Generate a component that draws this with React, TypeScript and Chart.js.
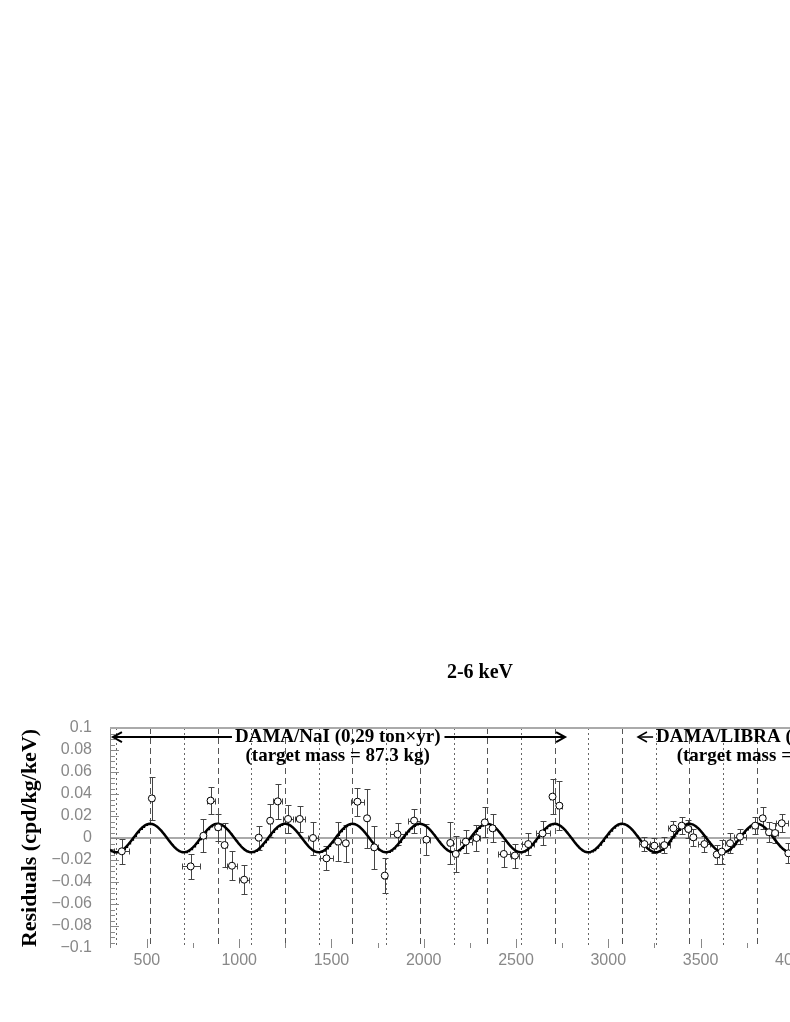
import React, { useEffect, useRef } from "react";
import { Chart, registerables } from "chart.js";

Chart.register(...registerables);

// ---- data ----
const days = [
  364, 527, 737, 806, 845, 886, 921, 961, 1027, 1106, 1168, 1209, 1265, 1328, 1400, 1473, 1536, 1578,
  1641, 1693, 1732, 1789, 1858, 1948, 2015, 2144, 2174, 2228, 2286, 2331, 2373, 2434, 2494, 2566, 2644,
  2698, 2735,
  3196, 3250, 3304, 3353, 3398, 3434, 3461, 3521, 3588, 3615, 3660, 3714, 3796, 3837, 3871, 3904, 3940, 3976,
];
const residuals = [
  -0.0121, 0.036, -0.0258, 0.002, 0.034, 0.0097, -0.0064, -0.0252, -0.0379, 0.0003, 0.0157, 0.0333, 0.0173,
  0.0173, 0.0, -0.0185, -0.0033, -0.0048, 0.033, 0.0179, -0.0085, -0.0342, 0.0034, 0.0158, -0.0015, -0.0045,
  -0.0145, -0.0033, 0.0, 0.0142, 0.0088, -0.0145, -0.016, -0.0055, 0.0042, 0.0376, 0.0294,
  -0.0055, -0.007, -0.0065, 0.0088, 0.0112, 0.0082, 0.0006, -0.0055, -0.015, -0.0124, -0.0048, 0.0012, 0.0112,
  0.0179, 0.0052, 0.0045, 0.0134, -0.0139,
];
const residualErrors = [
  0.0113, 0.0197, 0.0114, 0.015, 0.0124, 0.0124, 0.0197, 0.013, 0.013, 0.011, 0.015, 0.016, 0.013, 0.0117,
  0.015, 0.011, 0.018, 0.017, 0.0126, 0.027, 0.0197, 0.016, 0.01, 0.011, 0.014, 0.019, 0.016, 0.0103, 0.0117,
  0.0136, 0.0126, 0.012, 0.011, 0.01, 0.011, 0.016, 0.022,
  0.006, 0.007, 0.007, 0.007, 0.008, 0.008, 0.008, 0.007, 0.009, 0.011, 0.009, 0.007, 0.008, 0.01, 0.009,
  0.009, 0.008, 0.009,
];
const dayErrors = [
  40, 12, 48, 12, 22, 15, 12, 27, 27, 12, 12, 25, 27, 27, 27, 33, 12, 12, 33, 12, 20, 12, 38, 33, 20, 12, 12,
  33, 20, 12, 12, 33, 20, 33, 38, 12, 12,
  30, 30, 30, 27, 15, 15, 15, 33, 12, 12, 27, 33, 15, 15, 15, 15, 33, 12,
];

// fitted modulation
const fitAmplitude = 0.0129;
const fitPeriod = 365.25;
const fitPhaseDay = 152.5;

// annual maxima (dashed) and minima (dotted) markers
const maximaDays = [518, 883, 1248, 1614, 1979, 2344, 2709, 3075, 3440, 3805, 4170];
const minimaDays = [335, 701, 1066, 1431, 1796, 2162, 2527, 2892, 3257, 3623, 3988];

const xTickLabels = [500, 1000, 1500, 2000, 2500, 3000, 3500, 4000];
const yTickLabels = [0.1, 0.08, 0.06, 0.04, 0.02, 0, -0.02, -0.04, -0.06, -0.08, -0.1];

const titleText = "2-6 keV";
const yAxisTitle = "Residuals (cpd/kg/keV)";
const naiLabel = ["DAMA/NaI (0,29 ton×yr)", "(target mass = 87.3 kg)"];
const naiSpan = [316, 2766];
const naiCenter = 1534;
const libraLabel = ["DAMA/LIBRA (0.53 ton×yr)", "(target mass = 232.8 kg)"];
const libraArrow = [3161, 3243];
const labelRows = [0.0918, 0.0745];

const X_MIN = 300;
const X_MAX = 4310;

function fmtY(v: number): string {
  if (v === 0) return "0";
  return v < 0 ? "\u2212" + String(Math.abs(v)) : String(v);
}

const decorPlugin = {
  id: "decor",
  beforeDatasetsDraw(chart: any) {
    const { ctx, chartArea: a, scales } = chart;
    const x = scales.x;
    const y = scales.y;
    ctx.save();
    ctx.beginPath();
    ctx.rect(a.left, a.top - 2, a.right - a.left, a.bottom - a.top + 2);
    ctx.clip();

    // vertical modulation markers
    ctx.lineWidth = 1;
    ctx.strokeStyle = "#555";
    ctx.setLineDash([6, 4]);
    maximaDays.forEach((d) => {
      const px = Math.round(x.getPixelForValue(d)) + 0.5;
      ctx.beginPath();
      ctx.moveTo(px, a.top);
      ctx.lineTo(px, a.bottom);
      ctx.stroke();
    });
    ctx.strokeStyle = "#666";
    ctx.setLineDash([2, 3]);
    minimaDays.forEach((d) => {
      const px = Math.round(x.getPixelForValue(d)) + 0.5;
      ctx.beginPath();
      ctx.moveTo(px, a.top);
      ctx.lineTo(px, a.bottom);
      ctx.stroke();
    });
    ctx.setLineDash([]);

    // zero line
    ctx.strokeStyle = "#aaa";
    ctx.lineWidth = 2;
    const y0 = y.getPixelForValue(0);
    ctx.beginPath();
    ctx.moveTo(a.left, y0);
    ctx.lineTo(a.right, y0);
    ctx.stroke();

    // inner tick marks
    ctx.strokeStyle = "#888";
    ctx.lineWidth = 1;
    for (let v = -0.1; v <= 0.1001; v += 0.005) {
      const py = Math.round(y.getPixelForValue(v)) + 0.5;
      const major = Math.abs(Math.round(v * 1000) % 20) === 0;
      ctx.beginPath();
      ctx.moveTo(a.left, py);
      ctx.lineTo(a.left + (major ? 9 : 5), py);
      ctx.stroke();
    }
    for (let v = 500; v <= X_MAX; v += 250) {
      const px = Math.round(x.getPixelForValue(v)) + 0.5;
      const major = v % 500 === 0;
      ctx.beginPath();
      ctx.moveTo(px, a.bottom);
      ctx.lineTo(px, a.bottom - (major ? 9 : 5));
      ctx.stroke();
    }

    // axes & frame
    ctx.strokeStyle = "#888";
    ctx.lineWidth = 1;
    ctx.beginPath();
    ctx.moveTo(a.left + 0.5, a.top);
    ctx.lineTo(a.left + 0.5, a.bottom);
    ctx.moveTo(a.left, a.bottom + 0.5);
    ctx.lineTo(a.right, a.bottom + 0.5);
    ctx.stroke();
    ctx.strokeStyle = "#aaa";
    ctx.lineWidth = 2;
    ctx.beginPath();
    ctx.moveTo(a.left, a.top);
    ctx.lineTo(a.right, a.top);
    ctx.stroke();

    // error bars
    ctx.strokeStyle = "#444";
    ctx.lineWidth = 1;
    days.forEach((d, i) => {
      const px = Math.round(x.getPixelForValue(d)) + 0.5;
      const py = Math.round(y.getPixelForValue(residuals[i])) + 0.5;
      const yt = Math.round(y.getPixelForValue(residuals[i] + residualErrors[i])) + 0.5;
      const yb = Math.round(y.getPixelForValue(residuals[i] - residualErrors[i])) + 0.5;
      const xl = Math.round(x.getPixelForValue(d - dayErrors[i])) + 0.5;
      const xr = Math.round(x.getPixelForValue(d + dayErrors[i])) + 0.5;
      ctx.beginPath();
      ctx.moveTo(px, yt);
      ctx.lineTo(px, yb);
      ctx.moveTo(px - 3, yt);
      ctx.lineTo(px + 3, yt);
      ctx.moveTo(px - 3, yb);
      ctx.lineTo(px + 3, yb);
      ctx.moveTo(xl, py);
      ctx.lineTo(xr, py);
      ctx.moveTo(xl, py - 3);
      ctx.lineTo(xl, py + 3);
      ctx.moveTo(xr, py - 3);
      ctx.lineTo(xr, py + 3);
      ctx.stroke();
    });
    ctx.restore();
  },
  afterDatasetsDraw(chart: any) {
    const { ctx, chartArea: a, scales } = chart;
    const x = scales.x;
    const y = scales.y;
    ctx.save();

    // title
    ctx.fillStyle = "#000";
    ctx.font = 'bold 20px "Liberation Serif"';
    ctx.textAlign = "center";
    ctx.textBaseline = "middle";
    ctx.fillText(titleText, (a.left + a.right) / 2, a.top - 55);

    ctx.font = 'bold 19px "Liberation Serif"';
    const r1 = y.getPixelForValue(labelRows[0]);
    const r2 = y.getPixelForValue(labelRows[1]);

    const arrowHead = (px: number, py: number, dir: number) => {
      ctx.beginPath();
      ctx.moveTo(px + dir * 9, py - 5);
      ctx.lineTo(px, py);
      ctx.lineTo(px + dir * 9, py + 5);
      ctx.stroke();
    };

    // DAMA/NaI
    ctx.strokeStyle = "#000";
    ctx.lineWidth = 2;
    const cx = x.getPixelForValue(naiCenter);
    const w1 = ctx.measureText(naiLabel[0]).width;
    const xa = x.getPixelForValue(naiSpan[0]);
    const xb = x.getPixelForValue(naiSpan[1]);
    ctx.beginPath();
    ctx.moveTo(xa, r1);
    ctx.lineTo(cx - w1 / 2 - 3, r1);
    ctx.moveTo(cx + w1 / 2 + 4, r1);
    ctx.lineTo(xb, r1);
    ctx.stroke();
    arrowHead(xa, r1, 1);
    arrowHead(xb, r1, -1);
    ctx.fillText(naiLabel[0], cx, r1);
    ctx.fillText(naiLabel[1], cx, r2);

    // DAMA/LIBRA
    const la = x.getPixelForValue(libraArrow[0]);
    const lb = x.getPixelForValue(libraArrow[1]);
    ctx.lineWidth = 1.5;
    ctx.beginPath();
    ctx.moveTo(la, r1);
    ctx.lineTo(lb, r1);
    ctx.stroke();
    arrowHead(la, r1, 1);
    const lw = ctx.measureText(libraLabel[0]).width;
    const lc = lb + 3 + lw / 2;
    ctx.fillText(libraLabel[0], lc, r1);
    ctx.fillText(libraLabel[1], lc, r2);

    ctx.restore();
  },
};

export default function App() {
  const canvasRef = useRef<HTMLCanvasElement | null>(null);

  useEffect(() => {
    const canvas = canvasRef.current;
    if (!canvas) return;
    const points = days.map((d, i) => ({ x: d, y: residuals[i] }));
    const curve: { x: number; y: number }[] = [];
    for (let t = X_MIN; t <= X_MAX; t += 4) {
      curve.push({ x: t, y: fitAmplitude * Math.cos((2 * Math.PI * (t - fitPhaseDay)) / fitPeriod) });
    }
    const chart = new Chart(canvas, {
      type: "scatter",
      data: {
        datasets: [
          {
            label: "residuals",
            data: points,
            order: 0,
            pointStyle: "circle",
            pointRadius: 3.5,
            pointBackgroundColor: "#fff",
            pointBorderColor: "#000",
            pointBorderWidth: 1,
            showLine: false,
          },
          {
            label: "fit",
            data: curve,
            order: 1,
            showLine: true,
            borderColor: "#000",
            borderWidth: 2.5,
            pointRadius: 0,
            tension: 0,
          } as any,
        ],
      },
      options: {
        responsive: false,
        animation: false,
        devicePixelRatio: 1,
        events: [],
        layout: { padding: { top: 728, right: 110, left: 0, bottom: 0 } },
        plugins: { legend: { display: false }, tooltip: { enabled: false }, title: { display: false } },
        scales: {
          x: {
            type: "linear",
            min: X_MIN,
            max: X_MAX,
            grid: { display: false, drawTicks: false },
            border: { display: false },
            afterBuildTicks: (s: any) => {
              s.ticks = xTickLabels.map((v) => ({ value: v }));
            },
            afterFit: (s: any) => {
              s.height = 74;
            },
            ticks: {
              autoSkip: false,
              maxRotation: 0,
              padding: 3,
              color: "#888",
              font: { family: '"Liberation Sans"', size: 16 },
              callback: (v: any) => String(v),
            },
          },
          y: {
            type: "linear",
            min: -0.1,
            max: 0.1,
            grid: { display: false, drawTicks: false },
            border: { display: false },
            afterBuildTicks: (s: any) => {
              s.ticks = yTickLabels.map((v) => ({ value: v }));
            },
            afterFit: (s: any) => {
              s.width = 110;
            },
            ticks: {
              autoSkip: false,
              padding: 18,
              color: "#888",
              font: { family: '"Liberation Sans"', size: 16 },
              callback: (v: any) => fmtY(Number(v)),
            },
            title: {
              display: true,
              text: yAxisTitle,
              color: "#000",
              font: { family: '"Liberation Serif"', size: 22, weight: "bold" },
              padding: { top: 17, bottom: 0 },
            },
          },
        },
      },
      plugins: [decorPlugin],
    });
    return () => chart.destroy();
  }, []);

  return (
    <div
      style={{
        position: "absolute",
        left: 0,
        top: 0,
        width: 790,
        height: 1022,
        overflow: "hidden",
        background: "#fff",
      }}
    >
      <canvas ref={canvasRef} width={960} height={1022} style={{ display: "block", width: 960, height: 1022 }} />
    </div>
  );
}
